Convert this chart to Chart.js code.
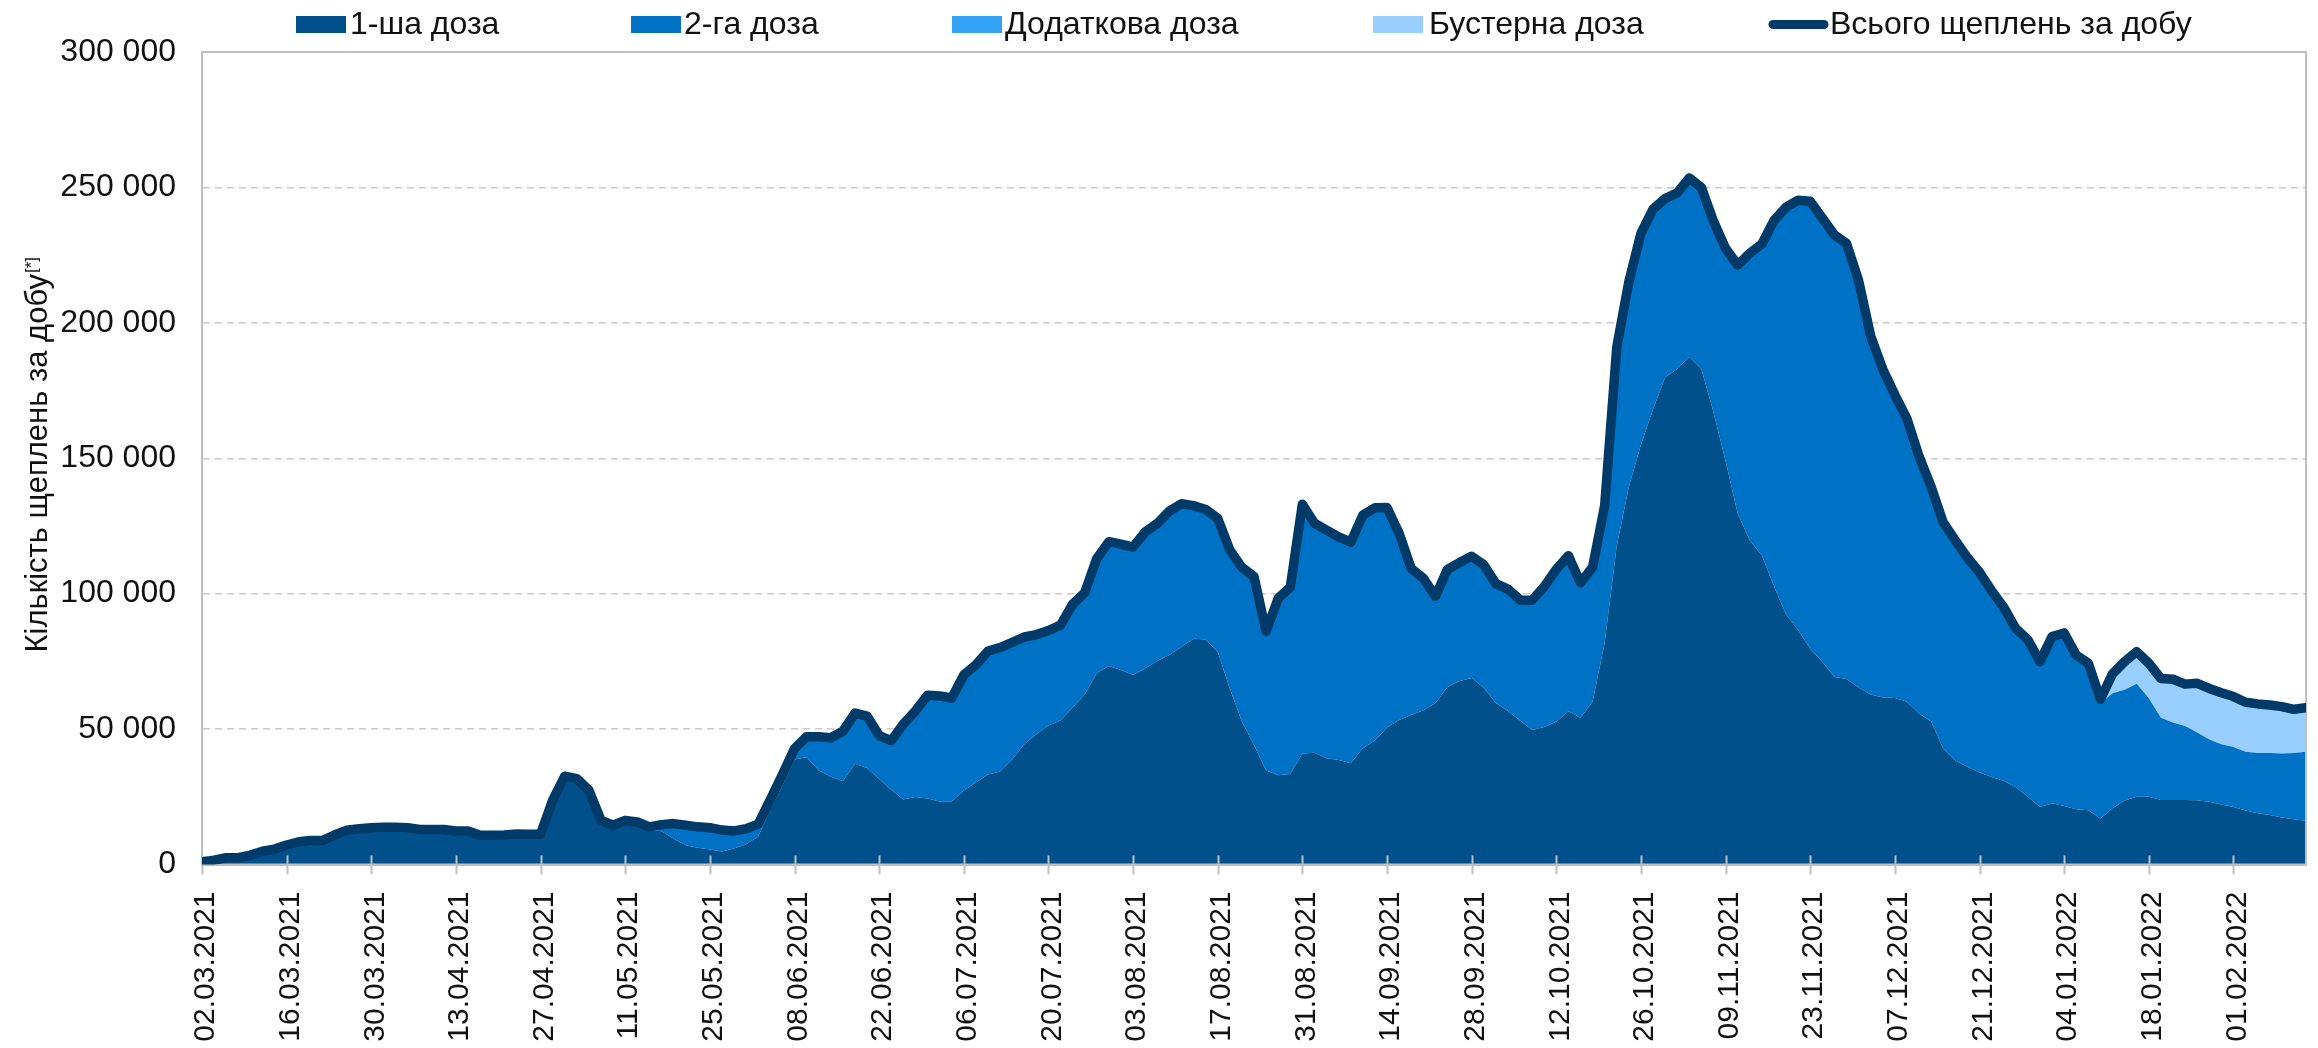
<!DOCTYPE html>
<html><head><meta charset="utf-8">
<script src="https://cdn.jsdelivr.net/npm/chart.js@4.4.1/dist/chart.umd.min.js"></script>
<style>html,body{margin:0;padding:0;background:#fff}#wrap{width:2318px;height:1048px;position:relative}</style>
</head><body><div id="wrap"><canvas id="c" width="2318" height="1048"></canvas></div>
<script>
// ---- DATA (one value every 2 days, starting 02.03.2021) ----
const tickLabels = ['02.03.2021','16.03.2021','30.03.2021','13.04.2021','27.04.2021','11.05.2021','25.05.2021','08.06.2021','22.06.2021','06.07.2021','20.07.2021','03.08.2021','17.08.2021','31.08.2021','14.09.2021','28.09.2021','12.10.2021','26.10.2021','09.11.2021','23.11.2021','07.12.2021','21.12.2021','04.01.2022','18.01.2022','01.02.2022'];
const dayStep = 2;
const tickEveryDays = 14;
const lastDay = 348;
const seriesNames = ['1-ша доза','2-га доза','Додаткова доза','Бустерна доза','Всього щеплень за добу'];
const yTitle = 'Кількість щеплень за добу';
const yTitleSup = '[*]';

const total = [
  1000,1600,2500,2500,3500,4900,5700,7200,8400,8900,
  8900,11000,12700,13200,13600,13800,13800,13600,12900,12900,
  12900,12400,12400,10800,10800,10900,11300,11200,11200,23800,
  32600,31700,27400,16300,14500,16300,15700,13900,14700,15100,
  14500,13900,13600,12700,12400,13200,14900,24000,33200,42800,
  47200,47200,46800,49200,55900,54800,47600,45700,51900,56700,
  62500,62200,61500,70000,73700,78800,80100,82000,84000,84900,
  86400,88400,96100,100400,113000,119200,118300,117200,122800,125900,
  130500,133200,132500,131100,127800,116100,109700,106300,86000,98300,
  102400,133000,126000,123500,121000,119000,129000,131700,131800,122300,
  109300,105700,99000,109000,111500,113800,110700,103700,101700,97700,
  97600,102600,109000,114000,104000,109800,132500,191000,215200,233000,
  242000,245900,248000,253500,250000,237500,227500,221300,225700,229100,
  237800,242700,245300,244900,238700,232500,229300,215600,195100,182900,
  173400,164600,150700,139500,126300,119700,113300,107900,101100,95000,
  87100,83000,74900,84200,85500,77300,74300,61000,70400,74900,
  78600,74300,68700,68400,66600,66900,65000,63400,62000,59900,
  59300,58900,58300,57300,57900
];
const dose1 = [
  1000,1600,2500,2500,3500,4900,5700,7200,8400,8900,
  8900,11000,12700,13200,13600,13800,13800,13600,12900,12900,
  12900,12400,12400,10800,10800,10900,11300,11200,11200,23800,
  32600,31700,27400,16300,14500,16000,14500,12700,12300,9600,
  7100,6200,5500,4800,5900,7500,10300,20400,29200,38800,
  39600,34800,32400,30800,37200,35600,31600,27600,24000,24900,
  24400,23300,23300,27300,30300,33200,34300,38800,44400,48100,
  51300,53200,58000,62800,70700,73300,71800,70000,72400,75100,
  77400,80400,83400,83100,78600,65000,52800,44100,34700,33000,
  33400,41000,41300,39200,38600,37400,42900,45800,50600,53400,
  55200,57000,59500,65500,67800,68900,65300,59600,56700,53200,
  49700,50800,52700,56600,54200,60100,81900,117600,139500,155000,
  168100,179900,183000,187400,183000,167000,149000,129600,119700,114200,
  102700,92400,86600,79700,74900,69200,68500,65400,62800,61700,
  61500,60100,55800,52800,42700,38400,36100,34000,32300,30900,
  28500,25000,21200,22600,21600,20400,20000,17000,20800,23600,
  25000,25000,23800,23800,23800,23700,23200,22200,21200,19900,
  18900,18300,17400,16700,16200
];
const extraDose = [
  0,0,0,0,0,0,0,0,0,0,0,0,0,0,0,0,0,0,0,0,0,0,0,0,0,
  0,0,0,0,0,0,0,0,0,0,0,0,0,0,0,0,0,0,0,0,0,0,0,0,0,
  0,0,0,0,0,0,0,0,0,0,0,0,0,0,0,0,0,0,0,0,0,0,0,0,0,
  0,0,0,0,0,0,0,0,0,0,0,0,0,0,0,0,0,0,0,0,0,0,0,0,0,
  0,0,0,0,0,0,0,0,0,0,0,0,0,0,0,0,0,0,0,0,0,0,0,0,0,
  0,0,0,0,0,0,0,0,0,0,0,0,0,0,0,0,0,0,0,0,0,0,0,0,0,
  0,0,0,0,0,0,0,0,0,0,0,0,0,0,0,0,0,0,0,0,0,0,0,0,0
];
const booster = [
  0,0,0,0,0,0,0,0,0,0,0,0,0,0,0,0,0,0,0,0,0,0,0,0,0,
  0,0,0,0,0,0,0,0,0,0,0,0,0,0,0,0,0,0,0,0,0,0,0,0,0,
  0,0,0,0,0,0,0,0,0,0,0,0,0,0,0,0,0,0,0,0,0,0,0,0,0,
  0,0,0,0,0,0,0,0,0,0,0,0,0,0,0,0,0,0,0,0,0,0,0,0,0,
  0,0,0,0,0,0,0,0,0,0,0,0,0,0,0,0,0,0,0,0,0,0,0,0,0,
  0,0,0,0,0,0,0,0,0,0,0,0,0,0,0,0,0,0,0,0,0,0,0,0,0,
  0,0,0,0,0,0,0,
  1500,7200,10400,11900,12900,14500,16000,15500,18200,18800,
  19000,18600,18300,18100,17700,17300,16100,16300
];

// ---- STYLE ----
const FONT = "'Liberation Sans', Arial, sans-serif";
const colors = ['#00508C','#0072C6','#33A3F5','#99CFFF','#003A68'];
const AXIS_GREY = '#BFBFBF';

const pts = arr => arr.map((v, i) => ({x: i * dayStep, y: v}));
const dose2 = total.map((t, i) => Math.max(0, t - dose1[i] - extraDose[i] - booster[i]));

const areaDs = (label, arr, color, fill) => ({
  label, data: pts(arr), backgroundColor: color, borderColor: 'rgba(0,0,0,0)', borderWidth: 0,
  pointRadius: 0, fill, order: 1, stack: 'doses', tension: 0
});

const legendItems = [
  {type:'box', x:296, tx:350},
  {type:'box', x:631, tx:684},
  {type:'box', x:952, tx:1005},
  {type:'box', x:1373, tx:1429},
  {type:'line', x:1773, tx:1830}
];

const decor = {
  id: 'decor',
  afterDatasetDraw(chart, args) {
    if (args.index !== 1) return;
    const {ctx, chartArea: a, scales: {x}} = chart;
    ctx.save();
    ctx.strokeStyle = AXIS_GREY; ctx.lineWidth = 2;
    x.ticks.forEach(t => {
      const px = Math.round(x.getPixelForValue(t.value)) + 0.5;
      ctx.beginPath(); ctx.moveTo(px, a.bottom - 9); ctx.lineTo(px, a.bottom + 10); ctx.stroke();
    });
    ctx.strokeRect(a.left, a.top, a.right - a.left, a.bottom - a.top);
    ctx.restore();
  },
  afterDraw(chart) {
    const {ctx, chartArea: a} = chart;
    ctx.save();
    // legend
    ctx.font = '32px ' + FONT; ctx.textBaseline = 'alphabetic';
    legendItems.forEach((it, i) => {
      if (it.type === 'box') {
        ctx.fillStyle = colors[i]; ctx.fillRect(it.x, 16, 50, 17);
      } else {
        ctx.strokeStyle = colors[4]; ctx.lineWidth = 9; ctx.lineCap = 'round';
        ctx.beginPath(); ctx.moveTo(it.x, 24.5); ctx.lineTo(it.x + 51, 24.5); ctx.stroke();
      }
      ctx.fillStyle = '#111';
      ctx.fillText(seriesNames[i], it.tx, 34);
    });
    // y title
    const cy = (a.top + a.bottom) / 2 - 3;
    ctx.translate(47, cy); ctx.rotate(-Math.PI / 2);
    ctx.font = '31px ' + FONT;
    const w = ctx.measureText(yTitle).width;
    ctx.font = '17px ' + FONT;
    const ws = ctx.measureText(yTitleSup).width;
    const sx = -(w + ws) / 2;
    ctx.font = '31px ' + FONT; ctx.fillStyle = '#111';
    ctx.fillText(yTitle, sx, 0);
    ctx.font = '17px ' + FONT;
    ctx.fillText(yTitleSup, sx + w + 1, -10);
    ctx.restore();
  }
};

new Chart(document.getElementById('c'), {
  type: 'line',
  data: {
    datasets: [
      {label: seriesNames[4], data: pts(total), borderColor: colors[4], borderWidth: 9.5, pointRadius: 0,
       fill: false, order: 0, stack: 'total', tension: 0, borderJoinStyle: 'round', borderCapStyle: 'round'},
      areaDs(seriesNames[0], dose1, colors[0], 'origin'),
      areaDs(seriesNames[1], dose2, colors[1], '-1'),
      areaDs(seriesNames[2], extraDose, colors[2], '-1'),
      areaDs(seriesNames[3], booster, colors[3], '-1')
    ]
  },
  options: {
    responsive: false, animation: false, devicePixelRatio: 1,
    layout: {padding: {left: 0, top: 52, right: 12, bottom: 0}},
    plugins: {legend: {display: false}, tooltip: {enabled: false}},
    scales: {
      x: {
        type: 'linear', min: 0, max: lastDay,
        afterBuildTicks: ax => { ax.ticks = tickLabels.map((_, i) => ({value: i * tickEveryDays})); },
        afterFit: s => { s.height = 183.5; },
        grid: {display: false, drawTicks: false},
        border: {display: true, color: AXIS_GREY, width: 2},
        ticks: {autoSkip: false, minRotation: 90, maxRotation: 90, padding: 27, labelOffset: 4,
          color: '#111', font: {family: FONT, size: 30},
          callback: (v, i) => tickLabels[i]}
      },
      y: {
        stacked: true, min: 0, max: 300000,
        afterFit: s => { s.width = 202; },
        grid: {drawTicks: false, lineWidth: 1.5,
          color: c => (c.tick && (c.tick.value === 0 || c.tick.value === 300000)) ? 'rgba(0,0,0,0)' : '#C9C9C9'},
        border: {display: true, color: AXIS_GREY, width: 2, dash: [7, 5]},
        ticks: {stepSize: 50000, padding: 26, color: '#111', font: {family: FONT, size: 32},
          callback: v => String(v).replace(/\B(?=(\d{3})+(?!\d))/g, ' ')}
      }
    }
  },
  plugins: [decor]
});
</script></body></html>
